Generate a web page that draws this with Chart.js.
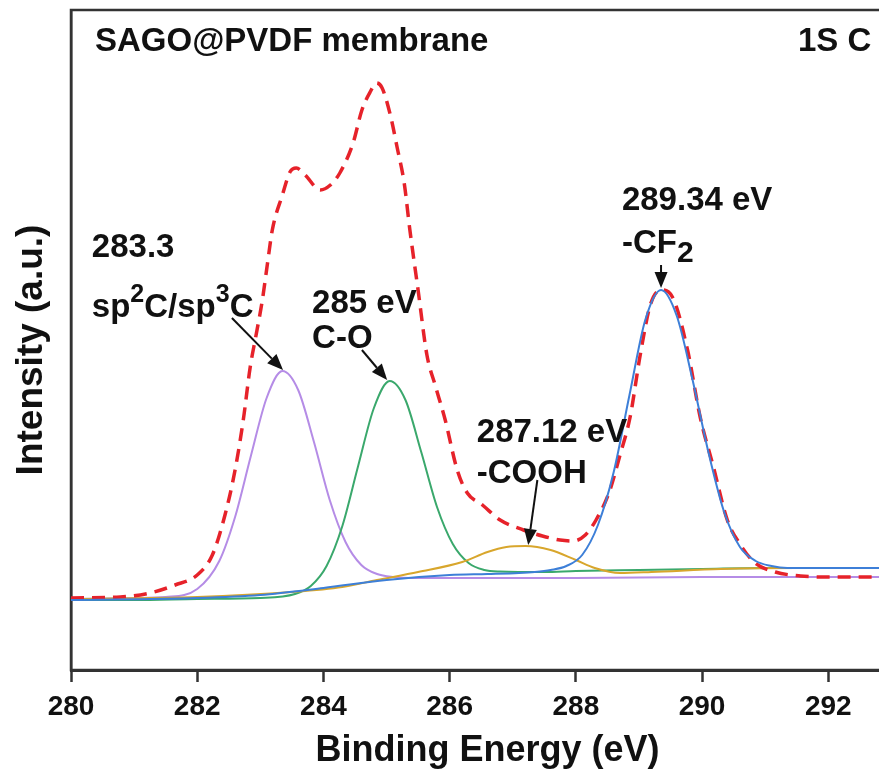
<!DOCTYPE html>
<html><head><meta charset="utf-8">
<script src="https://cdn.jsdelivr.net/npm/chart.js@4.4.1/dist/chart.umd.min.js"></script>
<style>
html,body{margin:0;padding:0;background:#fff;overflow:hidden;width:879px;height:776px}
#wrap{position:relative;width:910px;height:776px}
</style></head>
<body><div id="wrap"><canvas id="c" width="910" height="776"></canvas></div>
<script>
// ---- data (binding energy in eV, intensity in arbitrary units) ----
const xTickLabels = [280, 282, 284, 286, 288, 290, 292];

const envelopeX = [280.0, 280.78, 281.25, 281.65, 282.0, 282.24, 282.44, 282.6, 282.73, 282.84, 282.93, 283.03, 283.11, 283.19, 283.35, 283.47, 283.57, 283.71, 283.95, 284.11, 284.26, 284.47, 284.61, 284.74, 284.84, 284.93, 285.06, 285.17, 285.28, 285.37, 285.5, 285.64, 285.77, 285.93, 286.12, 286.28, 286.52, 286.8, 287.17, 287.47, 287.75, 287.96, 288.15, 288.32, 288.53, 288.7, 288.86, 289.02, 289.18, 289.35, 289.53, 289.77, 289.97, 290.18, 290.4, 290.61, 290.84, 291.16, 291.56, 292.03, 292.8, 293.2];
const envelopeY = [72, 73, 77, 85, 95, 115, 155, 200, 250, 303, 334, 369, 405, 440, 475, 498, 502, 495, 480, 485, 497, 527, 560, 578, 587, 582, 555, 522, 487, 440, 380, 315, 285, 250, 200, 177, 165, 150, 140, 134, 130, 129, 135, 150, 178, 215, 253, 315, 365, 380, 373, 320, 253, 203, 150, 125, 107, 98, 94, 93, 93, 93];

const sp2X = [280, 281, 281.5, 282, 282.35, 282.6, 282.85, 283.1, 283.35, 283.6, 283.85, 284.1, 284.35, 284.6, 284.85, 285.1, 285.5, 286.5, 288, 290, 292, 293.2];
const sp2Y = [71, 72, 73, 81, 109, 153, 214, 272, 299, 280, 228, 170, 128, 105, 96, 93, 92, 92, 92, 93, 93, 93];

const coX = [280, 281, 282, 283, 283.55, 283.8, 284.05, 284.3, 284.55, 284.8, 285.05, 285.3, 285.55, 285.8, 286.05, 286.3, 286.55, 286.8, 287.5, 288, 289, 290, 291, 292, 293.2];
const coY = [70, 70, 71, 72, 76, 84, 104, 144, 204, 262, 289, 270, 218, 163, 126, 107, 100, 98.5, 98, 99, 100, 101, 102, 102, 102];

const coohX = [280, 282, 283.5, 284.3, 284.85, 285.5, 286.2, 286.6, 286.9, 287.2, 287.6, 288.0, 288.3, 288.7, 289.2, 290.3, 291.5, 293.2];
const coohY = [71, 73, 78, 83, 90, 98, 108, 118, 123, 124, 120, 110, 102, 97, 98, 101, 102, 102];

const cf2X = [280, 282, 283, 284, 285, 286, 286.6, 287.1, 287.35, 287.6, 287.85, 288.1, 288.35, 288.6, 288.85, 289.1, 289.35, 289.6, 289.85, 290.1, 290.35, 290.6, 290.85, 291.1, 291.35, 292, 293.2];
const cf2Y = [70, 72, 75, 82, 90, 95, 96, 97, 98, 100, 104, 115, 145, 198, 275, 350, 380, 354, 290, 218, 158, 123, 109, 104, 102, 102, 102];

// ---- helpers ----
const pts = (xs, ys) => xs.map((x, i) => ({x: x, y: ys[i]}));
const FONT = '"Liberation Sans", Arial, sans-serif';

// annotation text (anchored at left / baseline, in data coordinates)
const notes = [
  {x: 280.38, y: 619, parts: [{t: 'SAGO@PVDF membrane', s: 33}]},
  {x: 291.52, y: 619, parts: [{t: '1S C', s: 33}]},
  {x: 280.33, y: 413, parts: [{t: '283.3', s: 33}]},
  {x: 280.33, y: 353, parts: [{t: 'sp', s: 33}, {t: '2', s: 25, dy: -15}, {t: 'C/sp', s: 33}, {t: '3', s: 25, dy: -15}, {t: 'C', s: 33}]},
  {x: 283.82, y: 357, parts: [{t: '285 eV', s: 33}]},
  {x: 283.82, y: 322, parts: [{t: 'C-O', s: 33}]},
  {x: 286.43, y: 228, parts: [{t: '287.12 eV', s: 33}]},
  {x: 286.43, y: 187, parts: [{t: '-COOH', s: 33}]},
  {x: 288.73, y: 460, parts: [{t: '289.34 eV', s: 33}]},
  {x: 288.73, y: 417, parts: [{t: '-CF', s: 33}, {t: '2', s: 30, dy: 9}]}
];
const arrows = [
  {x0: 282.55, y0: 352, x1: 283.36, y1: 300},
  {x0: 284.61, y0: 320, x1: 285.01, y1: 290},
  {x0: 287.39, y0: 190, x1: 287.245, y1: 125},
  {x0: 289.35, y0: 405, x1: 289.35, y1: 382}
];
const yTitle = 'Intensity (a.u.)';

const framePlugin = {
  id: 'frame',
  beforeDatasetsDraw(chart) {
    const {ctx, chartArea: a} = chart;
    ctx.save();
    ctx.strokeStyle = '#333';
    ctx.lineWidth = 2.5;
    ctx.strokeRect(a.left, a.top, a.right - a.left, a.bottom - a.top);
    // y axis title
    ctx.fillStyle = '#111';
    ctx.font = 'bold 37px ' + FONT;
    ctx.textAlign = 'center';
    ctx.textBaseline = 'middle';
    ctx.translate(32, (a.top + a.bottom) / 2 + 10);
    ctx.rotate(-Math.PI / 2);
    ctx.fillText(yTitle, 0, 0);
    ctx.restore();
  }
};

const annPlugin = {
  id: 'ann',
  afterDatasetsDraw(chart) {
    const {ctx, scales: {x, y}} = chart;
    ctx.save();
    ctx.fillStyle = '#111';
    ctx.strokeStyle = '#111';
    ctx.textBaseline = 'alphabetic';
    ctx.textAlign = 'left';
    notes.forEach(n => {
      let px = x.getPixelForValue(n.x);
      const py = y.getPixelForValue(n.y);
      n.parts.forEach(p => {
        ctx.font = 'bold ' + p.s + 'px ' + FONT;
        ctx.fillText(p.t, px, py + (p.dy || 0));
        px += ctx.measureText(p.t).width;
      });
    });
    arrows.forEach(a => {
      const x0 = x.getPixelForValue(a.x0), y0 = y.getPixelForValue(a.y0);
      const x1 = x.getPixelForValue(a.x1), y1 = y.getPixelForValue(a.y1);
      const ang = Math.atan2(y1 - y0, x1 - x0);
      const L = 16, W = 6.5;
      const bx = x1 - L * Math.cos(ang), by = y1 - L * Math.sin(ang);
      ctx.lineWidth = 2;
      ctx.beginPath(); ctx.moveTo(x0, y0); ctx.lineTo(bx, by); ctx.stroke();
      ctx.beginPath();
      ctx.moveTo(x1, y1);
      ctx.lineTo(bx + W * Math.sin(ang), by - W * Math.cos(ang));
      ctx.lineTo(bx - W * Math.sin(ang), by + W * Math.cos(ang));
      ctx.closePath(); ctx.fill();
    });
    ctx.restore();
  }
};

const line = (label, xs, ys, color, order, extra) => Object.assign({
  label: label, data: pts(xs, ys), borderColor: color, backgroundColor: color,
  borderWidth: 2, pointRadius: 0, fill: false, cubicInterpolationMode: 'monotone', order: order
}, extra || {});

new Chart(document.getElementById('c'), {
  type: 'line',
  data: {
    datasets: [
      line('sp2C/sp3C', sp2X, sp2Y, '#b58ce6', 5),
      line('C-O', coX, coY, '#3aa86c', 4),
      line('-COOH', coohX, coohY, '#d8a62c', 3),
      line('Envelope', envelopeX, envelopeY, '#e6222a', 2, {borderWidth: 3.5, borderDash: [13, 8]}),
      line('-CF2', cf2X, cf2Y, '#3d7fd8', 1)
    ]
  },
  options: {
    responsive: false,
    animation: false,
    devicePixelRatio: 1,
    layout: {padding: {top: 10, right: 6, left: 0, bottom: 0}},
    plugins: {legend: {display: false}, tooltip: {enabled: false}},
    scales: {
      x: {
        type: 'linear', min: 280, max: 293.2,
        afterBuildTicks: s => { s.ticks = xTickLabels.map(v => ({value: v})); },
        afterFit: s => { s.height = 106; },
        ticks: {color: '#111', font: {family: FONT, size: 28, weight: 'bold'}, padding: 8, maxRotation: 0},
        grid: {display: true, drawOnChartArea: false, drawTicks: true, tickLength: 12, tickWidth: 2.5, tickColor: '#333'},
        border: {display: true, width: 3, color: '#333'},
        title: {display: true, text: 'Binding Energy (eV)', color: '#111', font: {family: FONT, size: 36, weight: 'bold'}, padding: {top: 0, bottom: 3}}
      },
      y: {
        min: 0, max: 660,
        afterFit: s => { s.width = 71; },
        ticks: {display: false},
        grid: {display: false},
        border: {display: true, width: 2.5, color: '#333'},
        title: {display: false}
      }
    }
  },
  plugins: [framePlugin, annPlugin]
});
</script>
</body></html>
